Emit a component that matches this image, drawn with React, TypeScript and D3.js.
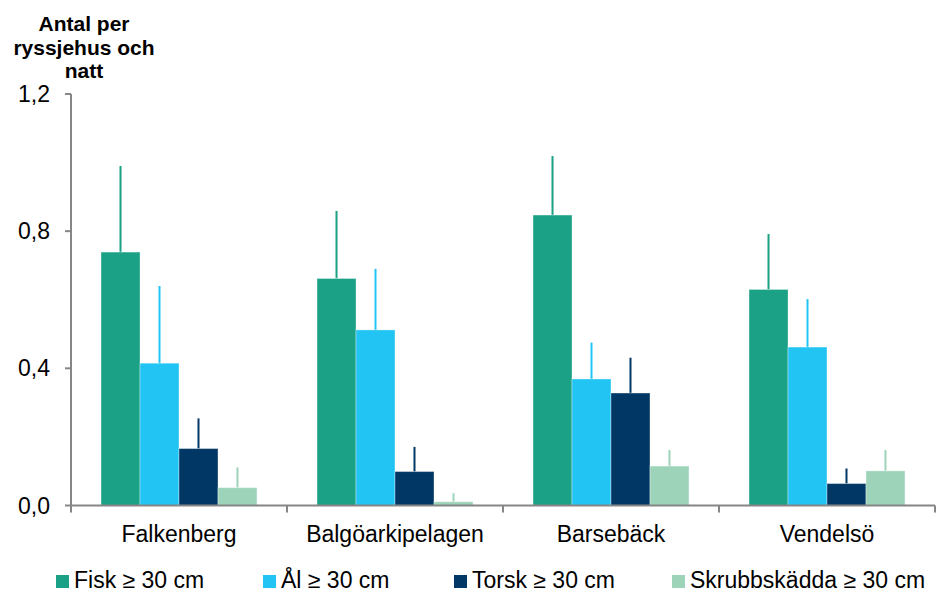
import React from "react";
import * as d3 from "d3";

// Catch per fyke-net house and night, by site and species group
const categories = ["Falkenberg", "Balgöarkipelagen", "Barsebäck", "Vendelsö"];
const seriesNames = ["Fisk ≥ 30 cm", "Ål ≥ 30 cm", "Torsk ≥ 30 cm", "Skrubbskädda ≥ 30 cm"];
const seriesColors = ["#1ba185", "#21c4f3", "#003764", "#9dd4b9"];

// mean values per series, one entry per site
const fisk = [0.739, 0.662, 0.847, 0.63];
const al = [0.415, 0.512, 0.369, 0.462];
const torsk = [0.166, 0.099, 0.328, 0.064];
const skrubb = [0.052, 0.011, 0.115, 0.101];

// upper end of the error bars
const fiskErr = [0.99, 0.859, 1.019, 0.792];
const alErr = [0.64, 0.69, 0.475, 0.602];
const torskErr = [0.254, 0.171, 0.431, 0.108];
const skrubbErr = [0.111, 0.036, 0.162, 0.162];

const yTicks = [0, 0.4, 0.8, 1.2];
const titleLines = ["Antal per", "ryssjehus och", "natt"];

const values = [fisk, al, torsk, skrubb];
const errors = [fiskErr, alErr, torskErr, skrubbErr];

const W = 937;
const H = 592;
const left = 71;
const right = 935;
const top = 94;
const bottom = 505.5;

const font = "Arial, 'Liberation Sans', sans-serif";
const axisColor = "#868686";

export default function App() {
  const x0 = d3.scaleBand<string>().domain(categories).range([left, right]).padding(0);
  const x1 = d3
    .scaleBand<string>()
    .domain(seriesNames)
    .range([0, x0.bandwidth()])
    .paddingInner(0)
    .paddingOuter(0.77);
  const y = d3.scaleLinear().domain([0, 1.2]).range([bottom, top]);

  const fmt = (v: number) => d3.format(".1f")(v).replace(".", ",");

  const boundaries = [...categories.map((c) => x0(c) as number), right];

  const legendX = [56, 263, 454, 672];

  return (
    <div style={{ position: "absolute", left: 0, top: 0 }}>
      <svg width={W} height={H} style={{ display: "block", background: "#fff" }}>
        {/* axis title */}
        <text
          x={84}
          y={31}
          textAnchor="middle"
          fontFamily={font}
          fontWeight="bold"
          fontSize={21}
          fill="#000"
        >
          {titleLines.map((t, i) => (
            <tspan key={t} x={84} y={31 + i * 23.5}>
              {t}
            </tspan>
          ))}
        </text>

        {/* bars and error bars */}
        {categories.map((cat, ci) => (
          <g key={cat} transform={`translate(${x0(cat)},0)`}>
            {seriesNames.map((s, si) => {
              const bx = x1(s) as number;
              const bw = x1.bandwidth();
              const v = values[si][ci];
              const e = errors[si][ci];
              const cx = bx + bw / 2;
              return (
                <g key={s}>
                  <line
                    x1={cx}
                    x2={cx}
                    y1={y(v)}
                    y2={y(e)}
                    stroke={seriesColors[si]}
                    strokeWidth={2}
                  />
                  <rect
                    x={bx}
                    y={y(v)}
                    width={bw}
                    height={y(0) - y(v)}
                    fill={seriesColors[si]}
                    stroke="#ffffff"
                    strokeOpacity={0.35}
                    strokeWidth={1}
                  />
                </g>
              );
            })}
          </g>
        ))}

        {/* y axis */}
        <line x1={left} x2={left} y1={top} y2={bottom} stroke={axisColor} strokeWidth={2} />
        {yTicks.map((t) => (
          <g key={t}>
            <line x1={left - 6} x2={left} y1={y(t)} y2={y(t)} stroke={axisColor} strokeWidth={2} />
            <text
              x={50}
              y={y(t)}
              dy="0.35em"
              textAnchor="end"
              fontFamily={font}
              fontSize={23}
              fill="#000"
            >
              {fmt(t)}
            </text>
          </g>
        ))}

        {/* x axis */}
        <line x1={left} x2={right} y1={bottom} y2={bottom} stroke={axisColor} strokeWidth={2} />
        {boundaries.map((bx, i) => (
          <line key={i} x1={bx} x2={bx} y1={bottom} y2={bottom + 7} stroke={axisColor} strokeWidth={2} />
        ))}
        {categories.map((cat) => (
          <text
            key={cat}
            x={(x0(cat) as number) + x0.bandwidth() / 2}
            y={542}
            textAnchor="middle"
            fontFamily={font}
            fontSize={23}
            fill="#000"
          >
            {cat}
          </text>
        ))}

        {/* legend */}
        {seriesNames.map((s, i) => (
          <g key={s}>
            <rect x={legendX[i]} y={575} width={13} height={13} fill={seriesColors[i]} />
            <text x={legendX[i] + 18} y={588} fontFamily={font} fontSize={23} fill="#000">
              {s}
            </text>
          </g>
        ))}
      </svg>
    </div>
  );
}
